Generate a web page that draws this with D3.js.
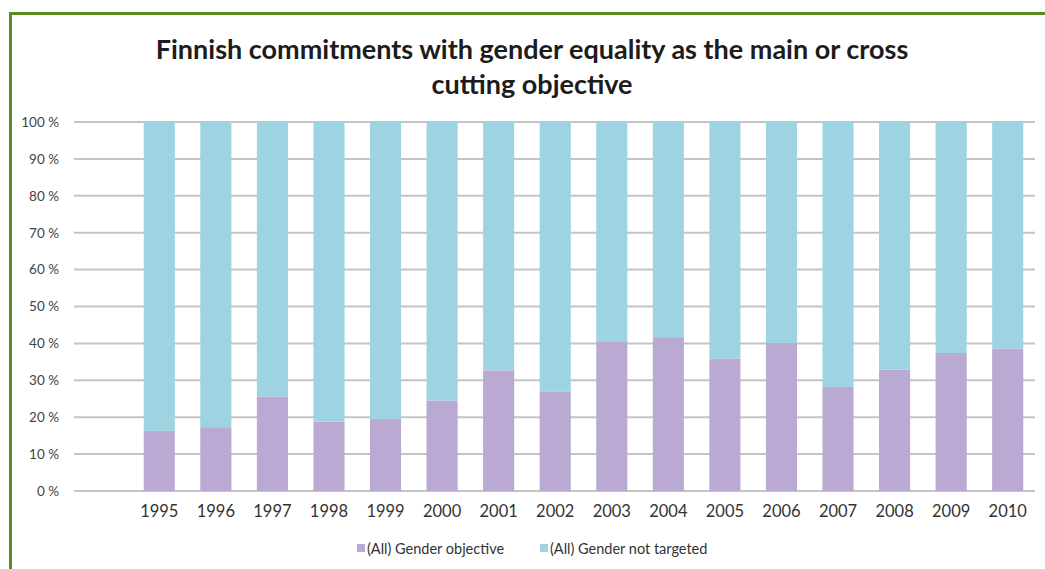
<!DOCTYPE html>
<html>
<head>
<meta charset="utf-8">
<script src="https://cdn.jsdelivr.net/npm/d3@7"></script>
<style>
  html, body { margin: 0; padding: 0; background: #fff; }
  svg { display: block; }
</style>
</head>
<body>
<div id="chart"></div>
<script>
// Chart data
const years = ["1995", "1996", "1997", "1998", "1999", "2000", "2001", "2002",
               "2003", "2004", "2005", "2006", "2007", "2008", "2009", "2010"];
const genderObjective = [16.3, 17.3, 25.6, 18.8, 19.5, 24.5, 32.7, 27.0,
                         40.6, 41.7, 35.9, 40.1, 28.2, 32.9, 37.4, 38.6];
const genderNotTargeted = genderObjective.map(v => 100 - v);
const yTicks = [0, 10, 20, 30, 40, 50, 60, 70, 80, 90, 100];
const seriesNames = ["(All) Gender objective", "(All) Gender not targeted"];
const seriesColors = ["#b9a9d3", "#9ed4e1"];
const titleLines = ["Finnish commitments with gender equality as the main or cross",
                    "cutting objective"];

const width = 1045, height = 569;
const font = "Lato, 'Open Sans', sans-serif";

const svg = d3.select('#chart')
  .append('svg')
  .attr('width', width)
  .attr('height', height);

// green frame (top and left edges only)
svg.append('path')
  .attr('d', `M10.5,${height} V13.5 H${width}`)
  .attr('fill', 'none')
  .attr('stroke', '#5b8a20')
  .attr('stroke-width', 3);

// title
svg.append('g').selectAll('text')
  .data(titleLines)
  .join('text')
  .attr('x', 532)
  .attr('y', (d, i) => 59 + i * 35)
  .attr('text-anchor', 'middle')
  .attr('font-family', font)
  .attr('font-weight', 'bold')
  .attr('font-size', 27)
  .attr('fill', '#1c1c1c')
  .text(d => d);

const x = d3.scaleBand()
  .domain(years)
  .range([131, 1036])
  .paddingInner(0.45)
  .paddingOuter(0.225);

const y = d3.scaleLinear()
  .domain([0, 100])
  .range([491, 122]);

// gridlines
svg.append('g')
  .selectAll('line')
  .data(yTicks)
  .join('line')
  .attr('x1', 74)
  .attr('x2', 1035)
  .attr('y1', d => y(d))
  .attr('y2', d => y(d))
  .attr('stroke', '#c4c4c4')
  .attr('stroke-width', 2);

// y axis labels
const yAxis = d3.axisLeft(y)
  .tickValues(yTicks)
  .tickSize(0)
  .tickPadding(0)
  .tickFormat(d => d + ' %');

svg.append('g')
  .attr('transform', 'translate(59,0)')
  .call(yAxis)
  .call(g => g.select('.domain').remove())
  .selectAll('text')
  .attr('font-family', font)
  .attr('font-size', 13.5)
  .attr('fill', '#444');

// stacked bars
const rows = years.map((yr, i) => ({
  year: yr,
  objective: genderObjective[i],
  notTargeted: genderNotTargeted[i]
}));
const stack = d3.stack().keys(['objective', 'notTargeted']);
const layers = stack(rows);

svg.append('g')
  .selectAll('g')
  .data(layers)
  .join('g')
  .attr('fill', (d, i) => seriesColors[i])
  .selectAll('rect')
  .data(d => d)
  .join('rect')
  .attr('x', d => x(d.data.year))
  .attr('width', x.bandwidth())
  .attr('y', d => y(d[1]))
  .attr('height', d => y(d[0]) - y(d[1]));

// x axis labels
const xAxis = d3.axisBottom(x).tickSize(0).tickPadding(0);
svg.append('g')
  .attr('transform', 'translate(0,517)')
  .call(xAxis)
  .call(g => g.select('.domain').remove())
  .selectAll('text')
  .attr('dy', 0)
  .attr('font-family', font)
  .attr('font-size', 16.5)
  .attr('fill', '#333');

// legend
const legendX = [357, 540];
const legend = svg.append('g')
  .selectAll('g')
  .data(seriesNames)
  .join('g')
  .attr('transform', (d, i) => `translate(${legendX[i]},549)`);

legend.append('rect')
  .attr('x', 0)
  .attr('y', -5)
  .attr('width', 8)
  .attr('height', 8)
  .attr('fill', (d, i) => seriesColors[i]);

legend.append('text')
  .attr('x', 10)
  .attr('y', 0)
  .attr('dy', '0.35em')
  .attr('font-family', font)
  .attr('font-size', 14.5)
  .attr('fill', '#333')
  .text(d => d);
</script>
</body>
</html>
